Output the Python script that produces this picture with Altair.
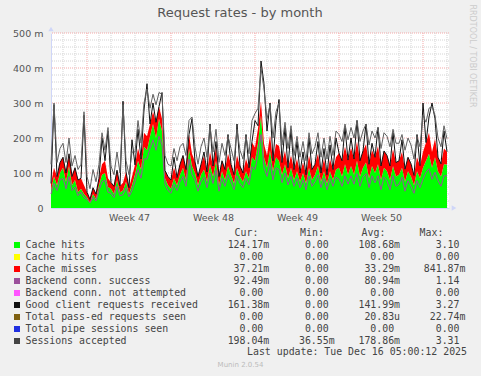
import altair as alt
import pandas as pd

# ---- data (values in milli-requests/s), one sample every 6 hours ----
hits = [50,90,65,100, 115,75,120,65, 80,45,55,40, 30,15,40,25, 65,95,100,60,
        55,40,80,45, 50,75,40,65, 95,135,110,175, 165,205,240,200, 255,220,85,65,
        55,85,65,95, 115,80,170,120, 100,65,95,110, 75,125,90,135, 65,105,80,120,
        95,70,115,90, 75,105,85,145, 135,185,265,145, 115,165,105,145, 135,95,125,85,
        115,80,105,75, 100,70,115,80, 95,120,75,105, 70,105,80,110, 115,90,125,95,
        120,95,135,90, 115,130,85,120, 100,125,80,115, 105,80,120,90, 95,115,75,105,
        90,65,105,85, 115,135,155,115, 145,105,90,125, 124]
misses = [20,25,25,30, 30,25,35,25, 35,35,30,25, 15,10,18,15, 20,30,35,25,
          18,22,28,18, 22,28,18,25, 28,35,30,40, 40,35,35,45, 35,35,22,25,
          25,30,22,30, 35,30,40,35, 32,25,30,38, 28,35,30,38, 25,30,30,35,
          30,25,35,30, 25,35,30,42, 38,42,40,38, 35,42,30,38, 42,35,38,30,
          35,30,35,25, 30,25,35,30, 30,35,25,35, 25,35,30,35, 42,45,50,42,
          52,45,55,45, 48,52,40,45, 45,52,40,48, 45,40,48,40, 40,45,36,40,
          36,28,40,36, 45,52,60,45, 52,40,36,45, 37]
backend = [40,70,50,80, 85,55,90,50, 60,35,45,30, 25,15,30,20, 50,75,80,45,
           42,30,62,35, 38,58,32,50, 75,110,85,140, 140,170,195,165, 205,180,68,50,
           42,68,50,75, 90,62,140,95, 80,48,75,88, 58,100,70,108, 48,85,62,95,
           75,52,92,70, 58,85,66,118, 110,150,210,115, 90,130,80,115, 110,72,100,66,
           90,62,85,58, 80,52,92,62, 75,95,58,85, 52,85,62,88, 82,62,92,68,
           92,68,98,62, 88,98,58,92, 72,92,52,88, 78,52,92,62, 68,88,48,78,
           62,42,78,58, 82,102,112,82, 102,78,62,92, 92]
client = [70,295,90,130, 145,100,155,90, 115,80,85,265, 45,25,58,40, 85,200,135,220,
          73,62,108,63, 305,103,58,195, 123,225,140,280, 355,240,300,245, 290,330,107,90,
          80,145,87,125, 150,110,210,255, 132,90,125,160, 103,240,120,190, 90,135,110,210,
          125,95,240,120, 100,210,115,190, 250,235,420,355, 220,300,135,250, 310,130,230,115,
          225,110,190,100, 160,95,200,110, 125,190,100,170, 95,180,110,200, 157,135,230,137,
          200,140,250,135, 163,240,125,185, 145,230,120,163, 150,120,215,130, 135,195,111,145,
          126,93,210,121, 300,187,260,300, 255,145,126,220, 161]
sessions = [125,300,130,170, 185,130,200,120, 150,110,125,275, 90,55,110,75, 125,215,165,230,
            120,95,160,100, 295,135,95,160, 160,250,185,300, 340,285,325,295, 330,325,150,125,
            120,170,135,175, 185,150,250,260, 175,125,175,200, 145,235,160,225, 130,185,150,205,
            170,135,225,165, 140,205,155,250, 270,285,400,340, 255,295,200,275, 300,180,245,170,
            235,150,205,145, 190,135,215,155, 175,215,145,200, 140,205,150,220, 210,190,240,195,
            230,200,250,190, 220,240,180,220, 200,230,170,215, 205,175,225,185, 185,210,165,200,
            180,140,205,175, 265,245,285,290, 265,200,175,235, 198]

y_major = [100, 200, 300, 400, 500]
y_minor = [20, 40, 60, 80, 120, 140, 160, 180, 220, 240, 260, 280, 320, 340, 360, 380,
           420, 440, 460, 480]
week_starts = [3, 10, 17, 24, 31]
week_label_pos = [6.5, 13.5, 20.5, 27.5]
day_lines = [d for d in range(1, 34) if d not in week_starts]

legend_labels = ["Cache hits", "Cache hits for pass", "Cache misses", "Backend conn. success",
                 "Backend conn. not attempted", "Good client requests received",
                 "Total pass-ed requests seen", "Total pipe sessions seen", "Sessions accepted"]
legend_colors = ["#00FF00", "#FFFF00", "#FF0000", "#9B509B", "#FF55FF", "#111111",
                 "#7F6010", "#2030E0", "#444444"]
col_heads = ["Cur:", "Min:", "Avg:", "Max:"]
cur_v = ["124.17m", "0.00", "37.21m", "92.49m", "0.00", "161.38m", "0.00", "0.00", "198.04m"]
min_v = ["0.00", "0.00", "0.00", "0.00", "0.00", "0.00", "0.00", "0.00", "36.55m"]
avg_v = ["108.68m", "0.00", "33.29m", "80.94m", "0.00", "141.99m", "20.83u", "0.00", "178.86m"]
max_v = ["3.10", "0.00", "841.87m", "1.14", "0.00", "3.27", "22.74m", "0.00", "3.31"]

# ---- build tables ----
n = len(hits)
df = pd.DataFrame({
    "t": [i / 4 for i in range(n)],
    "hits": hits, "misses": misses, "backend": backend,
    "client": client, "sessions": sessions,
})
df["hm"] = df["hits"] + df["misses"]

XMAX = 398 / 12
xs = alt.Scale(domain=[0, XMAX], nice=False, zero=False)
ys = alt.Scale(domain=[0, 500], nice=False)

NB = "\u00a0"
LX = -25.5     # legend text start, relative to plot left

def fmt(s):
    return s if s[-1].isalpha() else s + " "

lines = []
for i, lab in enumerate(legend_labels):
    lines.append(lab.ljust(34) + fmt(cur_v[i]).rjust(7) + fmt(min_v[i]).rjust(11)
                 + fmt(avg_v[i]).rjust(11) + fmt(max_v[i]).rjust(11))
legend_text = "\n".join(l.replace(" ", NB) for l in lines)

FONT = "DejaVu Sans"
MONO = "DejaVu Sans Mono"
TXT = "#555555"

label_expr_x = ("datum.value < 7 ? 'Week 47' : datum.value < 14 ? 'Week 48' : "
                "datum.value < 21 ? 'Week 49' : 'Week 50'")
ax_x = alt.Axis(values=week_label_pos, labelExpr=label_expr_x, title=None,
                ticks=False, grid=False, domainColor="#CFD6F8",
                labelFont=FONT, labelFontSize=9.5, labelColor=TXT, labelPadding=4)
ax_y = alt.Axis(values=[0, 100, 200, 300, 400, 500], title=None,
                labelExpr="datum.value == 0 ? '0' : datum.value + ' m'",
                ticks=False, grid=False, domainColor="#CFD6F8",
                labelFont=FONT, labelFontSize=9.5, labelColor=TXT, labelPadding=8)

def X(f):
    return alt.X(f, scale=xs, axis=ax_x)

def Y(f):
    return alt.Y(f, scale=ys, axis=ax_y)

# ---- grid ----
g_minor = alt.Chart(pd.DataFrame({"v": y_minor})).mark_rule(
    color="#d4d4d4", strokeDash=[1, 1], strokeWidth=1).encode(y=Y("v:Q"))
g_major = alt.Chart(pd.DataFrame({"v": y_major})).mark_rule(
    color="#f4a8a8", strokeDash=[1, 1], strokeWidth=1).encode(y=Y("v:Q"))
g_days = alt.Chart(pd.DataFrame({"d": day_lines})).mark_rule(
    color="#d4d4d4", strokeDash=[1, 1], strokeWidth=1).encode(x=X("d:Q"))
g_weeks = alt.Chart(pd.DataFrame({"d": week_starts})).mark_rule(
    color="#f4a8a8", strokeDash=[1, 1], strokeWidth=1).encode(x=X("d:Q"))

# ---- data marks ----
base = alt.Chart(df)
green = base.mark_area(color="#00FF00", opacity=1).encode(x=X("t:Q"), y=Y("hits:Q"))
red = base.mark_area(color="#FF0000", opacity=1).encode(
    x=X("t:Q"), y=Y("hm:Q"), y2="hits:Q")
l_backend = base.mark_line(color="#9B509B", strokeWidth=1).encode(x=X("t:Q"), y=Y("backend:Q"))
l_client = base.mark_line(color="#111111", strokeWidth=1).encode(x=X("t:Q"), y=Y("client:Q"))
l_sess = base.mark_line(color="#606060", strokeWidth=1).encode(x=X("t:Q"), y=Y("sessions:Q"))

# ---- decorations ----
one = pd.DataFrame({"a": [0]})
arrow_up = alt.Chart(one).mark_point(shape="triangle-up", filled=True, size=28,
                                     color="#CFD6F8", opacity=1).encode(
    x=alt.value(0), y=alt.value(-4))
arrow_right = alt.Chart(one).mark_point(shape="triangle-right", filled=True, size=28,
                                        color="#CFD6F8", opacity=1).encode(
    x=alt.value(403), y=alt.value(175))
title = alt.Chart(one).mark_text(font=FONT, fontSize=13, color=TXT, align="center",
                                 baseline="alphabetic").encode(
    x=alt.value(189), y=alt.value(-16), text=alt.value("Request rates - by month"))
watermark = alt.Chart(one).mark_text(font=FONT, fontSize=8, color="#cccccc", align="center",
                                     baseline="middle", angle=90).encode(
    x=alt.value(421), y=alt.value(23), text=alt.value("RRDTOOL / TOBI OETIKER"))
head_centers = [246.5, 312, 373.5, 431.5]
heads = []
for h, cx in zip(col_heads, head_centers):
    heads.append(alt.Chart(one).mark_text(font=MONO, fontSize=9.9, color="#444444",
                                          align="center", baseline="alphabetic").encode(
        x=alt.value(cx - 51), y=alt.value(203), text=alt.value(h)))
leg_text = alt.Chart(pd.DataFrame({"txt": [legend_text]})).mark_text(
    font=MONO, fontSize=9.9, color="#444444", align="left", baseline="alphabetic",
    lineBreak="\n", lineHeight=12).encode(
    x=alt.value(LX), y=alt.value(215), text="txt:N")
last_upd = alt.Chart(one).mark_text(font=MONO, fontSize=9.9, color="#444444", align="right",
                                    baseline="alphabetic").encode(
    x=alt.value(416), y=alt.value(322),
    text=alt.value("Last update: Tue Dec 16 05:00:12 2025".replace(" ", NB)))
munin = alt.Chart(one).mark_text(font=FONT, fontSize=7, color="#bbbbbb", align="center",
                                 baseline="middle").encode(
    x=alt.value(189.5), y=alt.value(332), text=alt.value("Munin 2.0.54"))

swatches = []
for i, (lab, col) in enumerate(zip(legend_labels, legend_colors)):
    swatches.append(
        alt.Chart(pd.DataFrame({"label": [lab]})).mark_square(
            size=36, color=col, opacity=1, filled=True).encode(
            x=alt.value(-34), y=alt.value(212 + 12 * i)))

chart = alt.layer(
    g_minor, g_major, g_days, g_weeks,
    green, red, l_backend, l_client, l_sess,
    arrow_up, arrow_right, title, watermark, *heads, leg_text, last_upd, munin,
    *swatches,
).properties(
    width=398, height=175,
    autosize=alt.AutoSizeParams(type="none"),
    padding={"left": 51, "top": 33, "right": 32, "bottom": 168},
    background="#F0F0F0",
).configure_view(fill="white", stroke=None)

chart.save("out.html", embed_options={"renderer": "svg", "actions": False})
